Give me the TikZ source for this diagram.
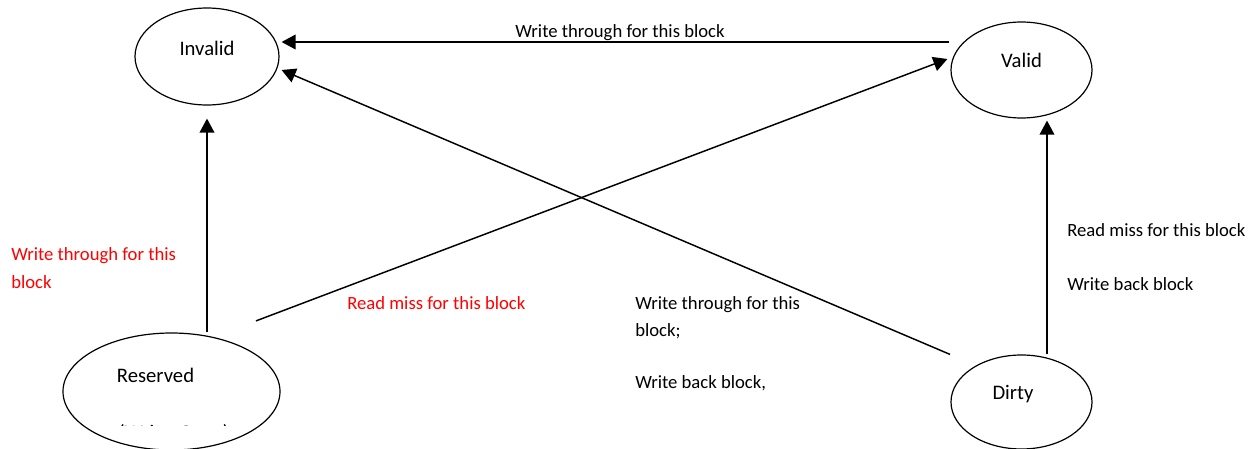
\documentclass[tikz,border=0pt]{standalone}
\usepackage{fontspec}
\setmainfont{Carlito}
\usetikzlibrary{arrows.meta,shapes.geometric}

\begin{document}
\begin{tikzpicture}[x=0.75pt, y=-0.75pt, font=\fontsize{14pt}{20.5pt}\selectfont]
   \tikzstyle{state}=[draw, ellipse, line width=0.9pt, inner sep=0pt]
   \tikzstyle{every label}=[font=\fontsize{15.5pt}{18pt}\selectfont]
   \tikzstyle{move}=[line width=1.1pt, -{Triangle[length=10.5pt, width=11pt]}]
   \tikzstyle{note}=[anchor=base west, align=left, inner sep=0pt]
   \tikzstyle{hot}=[note, text=red]
   \useasboundingbox (0,0) rectangle (1256,449);

% the four states
\node[state, minimum width=108pt, minimum height=72.75pt, label={[yshift=6.4pt]center:Invalid}] (inv) at (207,56.5) {};
\node[state, minimum width=105.75pt, minimum height=72pt, label={[yshift=7.5pt]center:Valid}] (val) at (1021.5,70) {};
\node[state, minimum width=162.75pt, minimum height=87.75pt, label={[xshift=-12pt, yshift=12pt]center:Reserved}] (res) at (171.5,391.5) {};
\node[state, minimum width=105.75pt, minimum height=70.5pt, label={[xshift=-6.4pt, yshift=6pt]center:Dirty}] (dirty) at (1021.5,402) {};

% second line of the reserved state, cut off at the bottom
\begin{scope}
  \clip (100,410) rectangle (240,425.5);
  \node[note, font=\fontsize{15.5pt}{18pt}\selectfont] (once) at (118,439) {(Write\hspace{6pt}Once)};
\end{scope}

% transitions
\draw[move] ([shift={(-1,-28)}]val.west) -- ([shift={(2,-14.5)}]inv.east);
\draw[move] ([shift={(-71.5,0)}]dirty.north) -- ([shift={(2,13.5)}]inv.east);
\draw[move] ([shift={(84.5,-11.5)}]res.north) -- ([shift={(-3,-11)}]val.west);
\draw[move] (inv.south |- res.north) -- ([shift={(0,13)}]inv.south);
\draw[move] ([shift={(25.5,0)}]dirty.north) -- ([shift={(25.5,2)}]val.south);

% transition labels (base is the last line)
\node[note, anchor=base] (wt) at (620,38) {Write through for this block};
\node[hot] (wtres) at (11,288) {Write through for this\\block};
\node[hot] (rmres) at (347,309) {Read miss for this block};
\node[note] (wbdirty) at (635,388) {Write through for this\\block;\\[17.8pt]Write back block,};
\node[note] (rmdirty) at (1067,290) {Read miss for this block\\[19.3pt]Write back block};

\end{tikzpicture}
\end{document}
